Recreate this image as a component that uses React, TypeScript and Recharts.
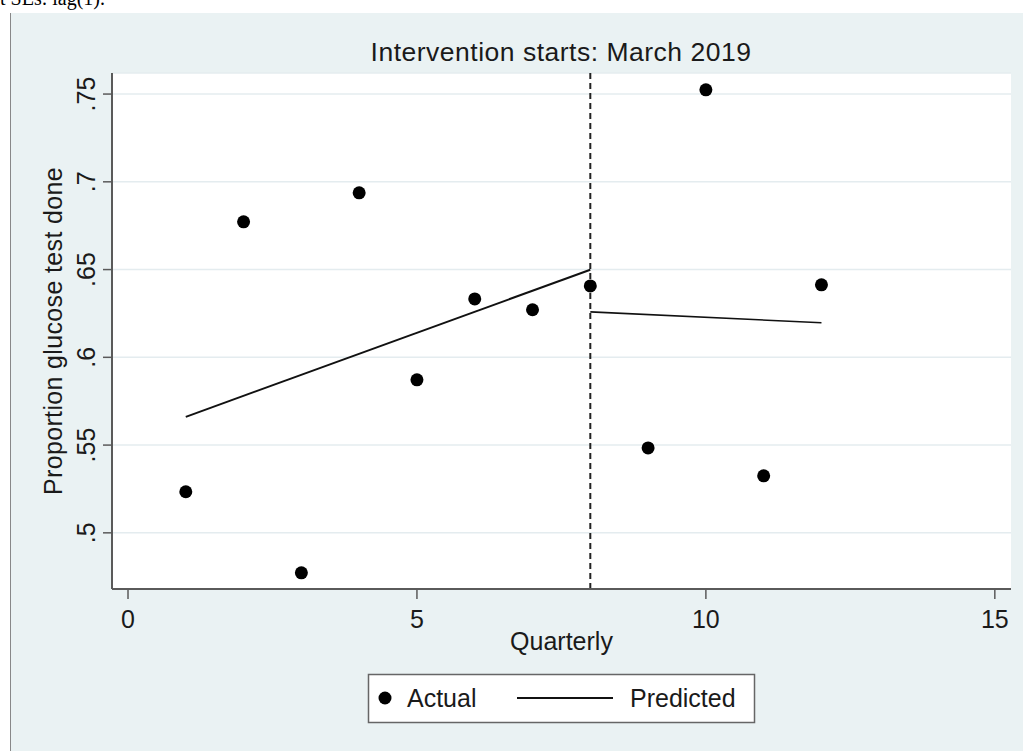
import React from 'react';
import { ComposedChart, XAxis, YAxis, CartesianGrid, Scatter, Line, ReferenceLine } from 'recharts';

const quarters = [1, 2, 3, 4, 5, 6, 7, 8, 9, 10, 11, 12];
const actualValues = [0.5234, 0.6772, 0.4772, 0.6937, 0.5872, 0.6333, 0.6271, 0.6407, 0.5484, 0.7524, 0.5325, 0.6413];
const predPreX = [1, 8];
const predPreY = [0.5661, 0.6499];
const predPostX = [8, 12];
const predPostY = [0.6259, 0.6197];
const xTicks = [0, 5, 10, 15];
const yTicks = [0.5, 0.55, 0.6, 0.65, 0.7, 0.75];
const interventionQuarter = 8;
const titleText = 'Intervention starts: March 2019';
const xLabel = 'Quarterly';
const yLabel = 'Proportion glucose test done';
const seriesNames = ['Actual', 'Predicted'];
const topNote = 't SEs: lag(1).';

const actualData = quarters.map((q, i) => ({ x: q, y: actualValues[i] }));
const preData = predPreX.map((x, i) => ({ x, y: predPreY[i] }));
const postData = predPostX.map((x, i) => ({ x, y: predPostY[i] }));

const FONT = '"Liberation Sans", Arial, sans-serif';
const TEXT = '#1a1a1a';
const AXIS = '#5a5a5a';

const fmtY = (v: number) => String(Number(v.toFixed(2))).replace(/^0/, '');

const YTick = (props: any) => {
  const { y, payload } = props;
  const bx = 95;
  return (
    <text x={bx} y={y} transform={`rotate(-90, ${bx}, ${y})`} textAnchor="middle" fontFamily={FONT} fontSize={25} fill={TEXT}>
      {fmtY(payload.value)}
    </text>
  );
};

const XTick = (props: any) => {
  const { x, payload } = props;
  return (
    <text x={x} y={628} textAnchor="middle" fontFamily={FONT} fontSize={25} fill={TEXT}>
      {payload.value}
    </text>
  );
};

const Dot = (props: any) => {
  const { cx, cy } = props;
  if (cx == null || cy == null) return null;
  return <circle cx={cx} cy={cy} r={6.5} fill="#000" />;
};

export default function App() {
  return (
    <div style={{ position: 'absolute', left: 0, top: 0, width: 1023, height: 751, background: '#fff', overflow: 'hidden' }}>
      <div style={{ position: 'absolute', left: 10, top: 13, width: 1013, height: 738, background: '#EAF2F3', borderLeft: '1.5px solid #888' }} />
      <div style={{ position: 'absolute', left: 0, top: 0 }}>
        <ComposedChart width={1023} height={751} margin={{ top: 73, right: 12, bottom: 122, left: 72 }}>
          <CartesianGrid horizontal={true} vertical={false} stroke="#E4ECEF" strokeWidth={1.5} fill="#ffffff" />
          <XAxis
            type="number"
            dataKey="x"
            domain={[-0.277, 15.28]}
            ticks={xTicks}
            allowDataOverflow
            height={40}
            tickSize={10}
            axisLine={{ stroke: AXIS, strokeWidth: 2 }}
            tickLine={{ stroke: AXIS, strokeWidth: 1.5 }}
            tick={<XTick />}
            interval={0}
          />
          <YAxis
            type="number"
            dataKey="y"
            domain={[0.468, 0.762]}
            ticks={yTicks}
            allowDataOverflow
            width={40}
            tickSize={9}
            axisLine={{ stroke: AXIS, strokeWidth: 2 }}
            tickLine={{ stroke: AXIS, strokeWidth: 1.5 }}
            tick={<YTick />}
            interval={0}
          />
          <ReferenceLine x={interventionQuarter} stroke="#222" strokeWidth={2} strokeDasharray="6 4" />
          <Line data={preData} dataKey="y" type="linear" stroke="#111" strokeWidth={2} dot={false} activeDot={false} isAnimationActive={false} />
          <Line data={postData} dataKey="y" type="linear" stroke="#111" strokeWidth={1.6} dot={false} activeDot={false} isAnimationActive={false} />
          <Scatter data={actualData} dataKey="y" fill="#000" shape={<Dot />} isAnimationActive={false} />
        </ComposedChart>
      </div>
      <svg width={1023} height={751} style={{ position: 'absolute', left: 0, top: 0, pointerEvents: 'none' }}>
        <text x={0} y={5} fontFamily='"Liberation Serif", "Times New Roman", serif' fontSize={20} fill="#000">{topNote}</text>
        <text x={561} y={61} textAnchor="middle" fontFamily={FONT} fontSize={26.5} letterSpacing={0.5} fill={TEXT}>{titleText}</text>
        <text x={561.5} y={650} textAnchor="middle" fontFamily={FONT} fontSize={25} fill={TEXT}>{xLabel}</text>
        <text x={62} y={331} transform="rotate(-90, 62, 331)" textAnchor="middle" fontFamily={FONT} fontSize={25} letterSpacing={0.35} fill={TEXT}>{yLabel}</text>
        <rect x={368.5} y={674.5} width={386} height={48} fill="#fff" stroke="#666" strokeWidth={1.5} />
        <circle cx={385} cy={698} r={6.5} fill="#000" />
        <text x={407} y={707} fontFamily={FONT} fontSize={25} fill={TEXT}>{seriesNames[0]}</text>
        <line x1={517} y1={698} x2={613} y2={698} stroke="#111" strokeWidth={2} />
        <text x={630} y={707} fontFamily={FONT} fontSize={25} fill={TEXT}>{seriesNames[1]}</text>
      </svg>
    </div>
  );
}
